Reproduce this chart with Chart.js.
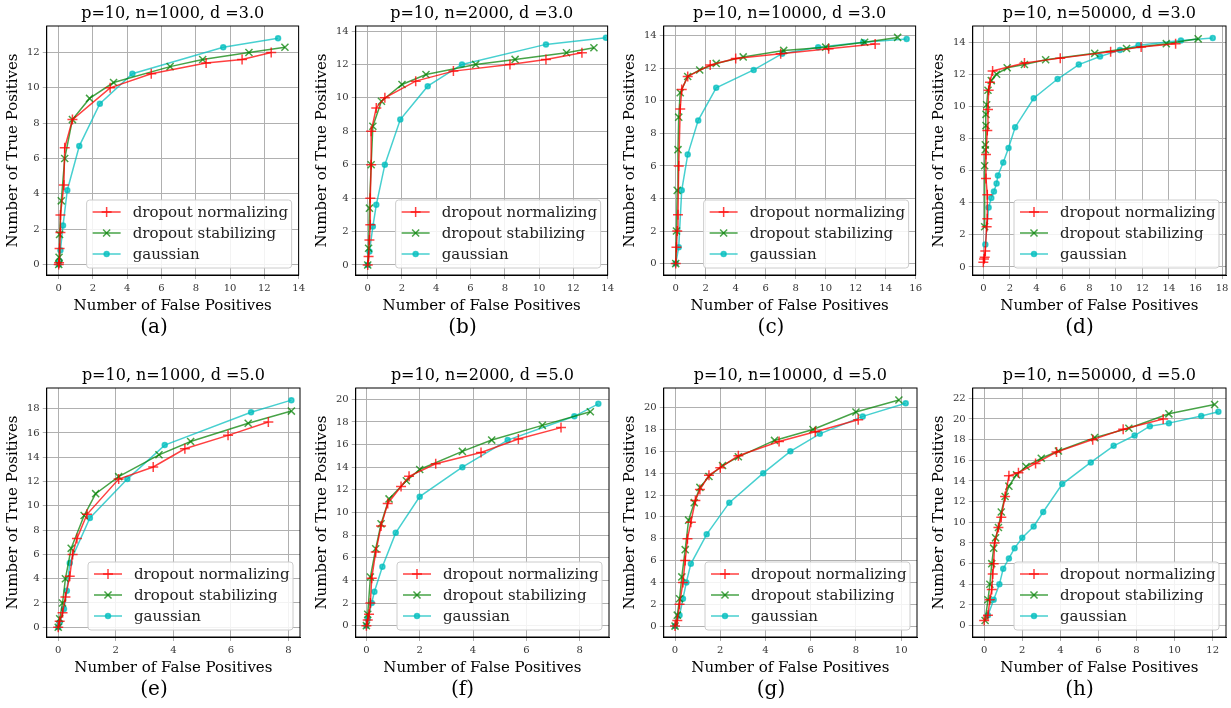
<!DOCTYPE html>
<html>
<head>
<meta charset="utf-8">
<script src="https://cdn.jsdelivr.net/npm/chart.js@4/dist/chart.umd.min.js"></script>
<style>
  body { margin: 0; background: #fff; width: 1231px; height: 708px; position: relative; overflow: hidden; }
  .panel { position: absolute; width: 308px; height: 315px; }
  .letter { position: absolute; width: 308px; text-align: center; font: 20px "DejaVu Serif", serif; color: #000; }
</style>
</head>
<body>
<script>
// ---- data: [false positives, true positives] pairs per panel ----
const titles = [
  'p=10, n=1000, d =3.0', 'p=10, n=2000, d =3.0', 'p=10, n=10000, d =3.0', 'p=10, n=50000, d =3.0',
  'p=10, n=1000, d =5.0', 'p=10, n=2000, d =5.0', 'p=10, n=10000, d =5.0', 'p=10, n=50000, d =5.0'
];
const letters = ['(a)', '(b)', '(c)', '(d)', '(e)', '(f)', '(g)', '(h)'];
const seriesNames = ['dropout normalizing', 'dropout stabilizing', 'gaussian'];

const normalizing = [
  [[0,0],[0.02,0.1],[0.05,0.9],[0.1,1.8],[0.1,2.8],[0.3,4.5],[0.35,6.6],[0.8,8.2],[3,10],[5.4,10.8],[8.6,11.4],[10.7,11.6],[12.4,12]],
  [[0,0],[0.05,0.5],[0.1,1.5],[0.15,2.4],[0.15,4],[0.2,6],[0.2,8],[0.5,9.4],[1,10],[2.8,11],[5,11.6],[8.3,12],[10.4,12.3],[12.5,12.7]],
  [[0,0],[0.05,1],[0.1,2],[0.15,3],[0.2,6],[0.3,9.5],[0.4,10.7],[0.8,11.5],[2.3,12.2],[4,12.6],[7,12.9],[10.2,13.2],[13.3,13.5]],
  [[0,0.3],[0.05,0.5],[0.1,0.6],[0.15,1],[0.25,2.5],[0.3,3],[0.3,4.5],[0.2,5.5],[0.2,7],[0.3,8.5],[0.35,9.8],[0.4,11],[0.5,11.5],[0.7,12.2],[3.1,12.7],[5.8,13],[9.6,13.4],[11.9,13.7],[14.5,13.9]],
  [[0,0],[0.05,0.5],[0.15,1.2],[0.25,2.5],[0.4,4.2],[0.5,6],[0.65,7.3],[1,9.3],[2.1,12.2],[3.3,13.2],[4.4,14.7],[5.9,15.8],[7.3,16.9]],
  [[0,0],[0.05,0.5],[0.1,1],[0.15,2],[0.2,4.2],[0.35,6.5],[0.55,8.8],[0.8,10.8],[1.3,12.3],[1.6,13.2],[2.6,14.3],[4.3,15.3],[5.7,16.5],[7.3,17.5]],
  [[0,0],[0.1,0.5],[0.2,2],[0.35,4],[0.45,6],[0.55,8],[0.7,9.5],[0.9,11.5],[1.1,12.5],[1.5,13.8],[2,14.5],[2.8,15.6],[4.6,16.9],[6.2,17.8],[8.1,18.9]],
  [[0,0.5],[0.2,1],[0.3,2.5],[0.4,3.5],[0.45,5],[0.5,6],[0.55,8],[0.75,9.5],[0.9,10.5],[1.1,12.5],[1.3,14.5],[1.8,14.8],[2.7,15.7],[3.8,16.8],[5.7,18],[7.3,19],[9.4,20]]
];
const stabilizing = [
  [[0,0],[0.02,0.4],[0.05,1.7],[0.15,3.6],[0.35,6],[0.8,8.2],[1.8,9.4],[3.2,10.3],[6.5,11.2],[8.4,11.6],[11.1,12],[13.2,12.3]],
  [[0,0],[0.05,1],[0.1,3.4],[0.2,6],[0.3,8.3],[0.8,9.8],[2,10.8],[3.4,11.4],[6.3,12],[8.6,12.3],[11.6,12.7],[13.2,13]],
  [[0,0],[0.05,2],[0.1,4.5],[0.15,7],[0.2,9],[0.3,10.5],[0.8,11.5],[1.6,11.9],[2.7,12.3],[4.5,12.7],[7.2,13.1],[10,13.3],[12.6,13.6],[14.8,13.9]],
  [[0.1,2.5],[0.1,6.3],[0.15,7.3],[0.15,7.6],[0.2,8.8],[0.2,9.5],[0.25,10.1],[0.35,11],[0.6,11.6],[1,12],[1.8,12.4],[3.1,12.6],[4.7,12.9],[8.4,13.3],[10.8,13.6],[13.8,13.9],[16.2,14.2]],
  [[0,0],[0.05,0.7],[0.15,2],[0.25,4],[0.45,6.5],[0.9,9.2],[1.3,11],[2.1,12.4],[3.5,14.2],[4.6,15.3],[6.6,16.8],[8.1,17.8]],
  [[0,0],[0.05,1],[0.15,4.3],[0.35,6.8],[0.55,9],[0.85,11.2],[1.5,12.8],[2,13.8],[3.6,15.4],[4.7,16.4],[6.6,17.7],[8.4,18.9]],
  [[0,0],[0.1,1],[0.2,2.5],[0.3,4.5],[0.45,7],[0.6,9.7],[0.85,11.3],[1.1,12.7],[1.5,13.7],[2.1,14.7],[2.8,15.5],[4.4,17],[6.1,18],[8,19.6],[9.9,20.7]],
  [[0.05,0.5],[0.2,2.5],[0.3,4],[0.4,6],[0.5,7.5],[0.6,8.5],[0.75,9.5],[0.9,11],[1.1,12.5],[1.3,13.5],[1.7,14.6],[2.2,15.4],[3,16.2],[3.9,16.9],[5.8,18.2],[7.6,19.1],[9.7,20.5],[12.1,21.4]]
];
const gaussian = [
  [[0,0],[0.03,0.2],[0.1,0.8],[0.25,2.2],[0.5,4.2],[1.2,6.7],[2.4,9.1],[4.3,10.8],[9.6,12.3],[12.8,12.8]],
  [[0,0],[0.1,0.8],[0.3,2.3],[0.5,3.6],[1,6],[1.9,8.7],[3.5,10.7],[5.5,12],[10.4,13.2],[13.9,13.6]],
  [[0,0],[0.2,1],[0.4,4.5],[0.8,6.7],[1.5,8.8],[2.7,10.8],[5.2,11.9],[7.1,12.9],[9.5,13.3],[12.5,13.6],[15.4,13.8]],
  [[0.15,1.4],[0.4,3.7],[0.6,4.3],[0.8,4.7],[1,5.2],[1.1,5.7],[1.5,6.5],[1.9,7.4],[2.4,8.7],[3.8,10.5],[5.6,11.7],[7.2,12.6],[8.8,13.1],[10.3,13.5],[11.7,13.8],[14.9,14.1],[17.3,14.25]],
  [[0,0],[0.05,0.4],[0.2,1.5],[0.3,3],[0.4,5.3],[1.1,9],[2.4,12.2],[3.7,15],[6.7,17.7],[8.1,18.7]],
  [[0,0],[0.05,0.6],[0.2,2],[0.3,3],[0.6,5.2],[1.1,8.2],[2,11.4],[3.6,14],[5.3,16.4],[7.8,18.5],[8.7,19.6]],
  [[0,0],[0.2,1],[0.35,2.5],[0.5,4],[0.7,5.7],[1.4,8.4],[2.4,11.3],[3.9,14],[5.1,16],[6.4,17.6],[8.3,19.2],[10.2,20.4]],
  [[0.2,1],[0.5,2.5],[0.8,4],[1,5.5],[1.3,6.5],[1.6,7.5],[2,8.5],[2.6,9.6],[3.1,11],[4.1,13.7],[5.6,15.8],[6.8,17.4],[7.9,18.4],[8.7,19.3],[9.7,19.6],[11.4,20.3],[12.3,20.7]]
];

// axis ranges per panel: [min, max, step]
const xRanges = [[-0.7,14,2],[-0.7,14,2],[-0.8,16,2],[-0.8,18.3,2],[-0.4,8.4,2],[-0.4,9.1,2],[-0.5,10.7,2],[-0.6,12.7,2]];
const yRanges = [[-0.6,13.5,2],[-0.6,14.3,2],[-0.7,14.6,2],[-0.5,15,2],[-0.8,19.7,2],[-1,21,2],[-1,21.8,2],[-1.1,23,2]];

const colors = ['rgba(255,0,0,0.75)', 'rgba(0,128,0,0.72)', 'rgba(0,190,190,0.72)'];
const markers = ['cross', 'crossRot', 'circle'];
const serif = '"DejaVu Serif", serif';

// frame around the plot area and the title centred over it
const frameBox = {
  id: 'frameBox',
  afterDraw(chart) {
    const { ctx, chartArea: a } = chart;
    ctx.save();
    ctx.strokeStyle = '#000';
    ctx.lineWidth = 1;
    ctx.strokeRect(a.left, a.top, a.right - a.left, a.bottom - a.top);
    ctx.fillStyle = '#000';
    ctx.font = '16px ' + serif;
    ctx.textAlign = 'center';
    ctx.textBaseline = 'bottom';
    ctx.fillText(chart.options.plugins.frameBox.text, (a.left + a.right) / 2, a.top - 4);
    ctx.restore();
  }
};

// legend drawn inside the plot, lower right, like matplotlib
const insideLegend = {
  id: 'insideLegend',
  afterDraw(chart) {
    const { ctx, chartArea: a } = chart;
    const w = 205, h = 68;
    const x0 = a.right - w - 7, y0 = a.bottom - h - 7;
    ctx.save();
    ctx.fillStyle = 'rgba(255,255,255,0.85)';
    ctx.strokeStyle = '#ccc';
    ctx.lineWidth = 1;
    ctx.beginPath();
    ctx.roundRect(x0, y0, w, h, 3);
    ctx.fill();
    ctx.stroke();
    ctx.font = '15px ' + serif;
    ctx.textBaseline = 'middle';
    seriesNames.forEach((name, i) => {
      const cy = y0 + 12 + i * 21;
      ctx.strokeStyle = colors[i];
      ctx.fillStyle = colors[i];
      ctx.lineWidth = 1.5;
      ctx.beginPath();
      ctx.moveTo(x0 + 6, cy);
      ctx.lineTo(x0 + 34, cy);
      ctx.stroke();
      Chart.helpers.drawPoint(ctx, {
        pointStyle: markers[i], radius: i === 2 ? 2.5 : 5, borderWidth: 1.5, rotation: 0
      }, x0 + 20, cy);
      ctx.fillStyle = '#222';
      ctx.fillText(name, x0 + 46, cy + 1);
    });
    ctx.restore();
  }
};

function makeDataset(points, i) {
  return {
    label: seriesNames[i],
    data: points.map(p => ({ x: p[0], y: p[1] })),
    showLine: true,
    borderColor: colors[i],
    backgroundColor: colors[i],
    borderWidth: 1.5,
    pointStyle: markers[i],
    pointRadius: i === 2 ? 2.5 : 5,
    pointBorderWidth: 1.5
  };
}

for (let k = 0; k < 8; k++) {
  const col = k % 4, row = Math.floor(k / 4);
  const left = col * 308.5, top = row * 362;

  const div = document.createElement('div');
  div.className = 'panel';
  div.style.left = left + 'px';
  div.style.top = top + 'px';
  const canvas = document.createElement('canvas');
  div.appendChild(canvas);
  document.body.appendChild(div);

  const lab = document.createElement('div');
  lab.className = 'letter';
  lab.style.left = left + 'px';
  lab.style.top = (top + 314) + 'px';
  lab.textContent = letters[k];
  document.body.appendChild(lab);

  const xr = xRanges[k], yr = yRanges[k];
  const gridColor = '#b0b0b0';
  new Chart(canvas, {
    type: 'scatter',
    data: {
      datasets: [
        makeDataset(normalizing[k], 0),
        makeDataset(stabilizing[k], 1),
        makeDataset(gaussian[k], 2)
      ]
    },
    options: {
      responsive: true,
      maintainAspectRatio: false,
      animation: false,
      layout: { padding: { left: 2, right: 8, top: 26, bottom: 0 } },
      plugins: {
        legend: { display: false },
        tooltip: { enabled: false },
        frameBox: { text: titles[k] }
      },
      scales: {
        x: {
          type: 'linear', min: xr[0], max: xr[1],
          afterBuildTicks: ax => {
            const t = [];
            for (let v = 0; v <= xr[1]; v += xr[2]) t.push({ value: v });
            ax.ticks = t;
          },
          ticks: { color: '#333', font: { family: serif, size: 10 }, maxRotation: 0 },
          grid: { color: gridColor, drawTicks: true, tickLength: 4 },
          border: { color: '#000' },
          title: { display: true, text: 'Number of False Positives', color: '#000', font: { family: serif, size: 15 }, padding: 0 }
        },
        y: {
          type: 'linear', min: yr[0], max: yr[1],
          afterBuildTicks: ax => {
            const t = [];
            for (let v = 0; v <= yr[1]; v += yr[2]) t.push({ value: v });
            ax.ticks = t;
          },
          ticks: { color: '#333', font: { family: serif, size: 10 } },
          grid: { color: gridColor, tickLength: 4 },
          border: { color: '#000' },
          title: { display: true, text: 'Number of True Positives', color: '#000', font: { family: serif, size: 15 }, padding: 2 }
        }
      }
    },
    plugins: [frameBox, insideLegend]
  });
}
</script>
</body>
</html>
